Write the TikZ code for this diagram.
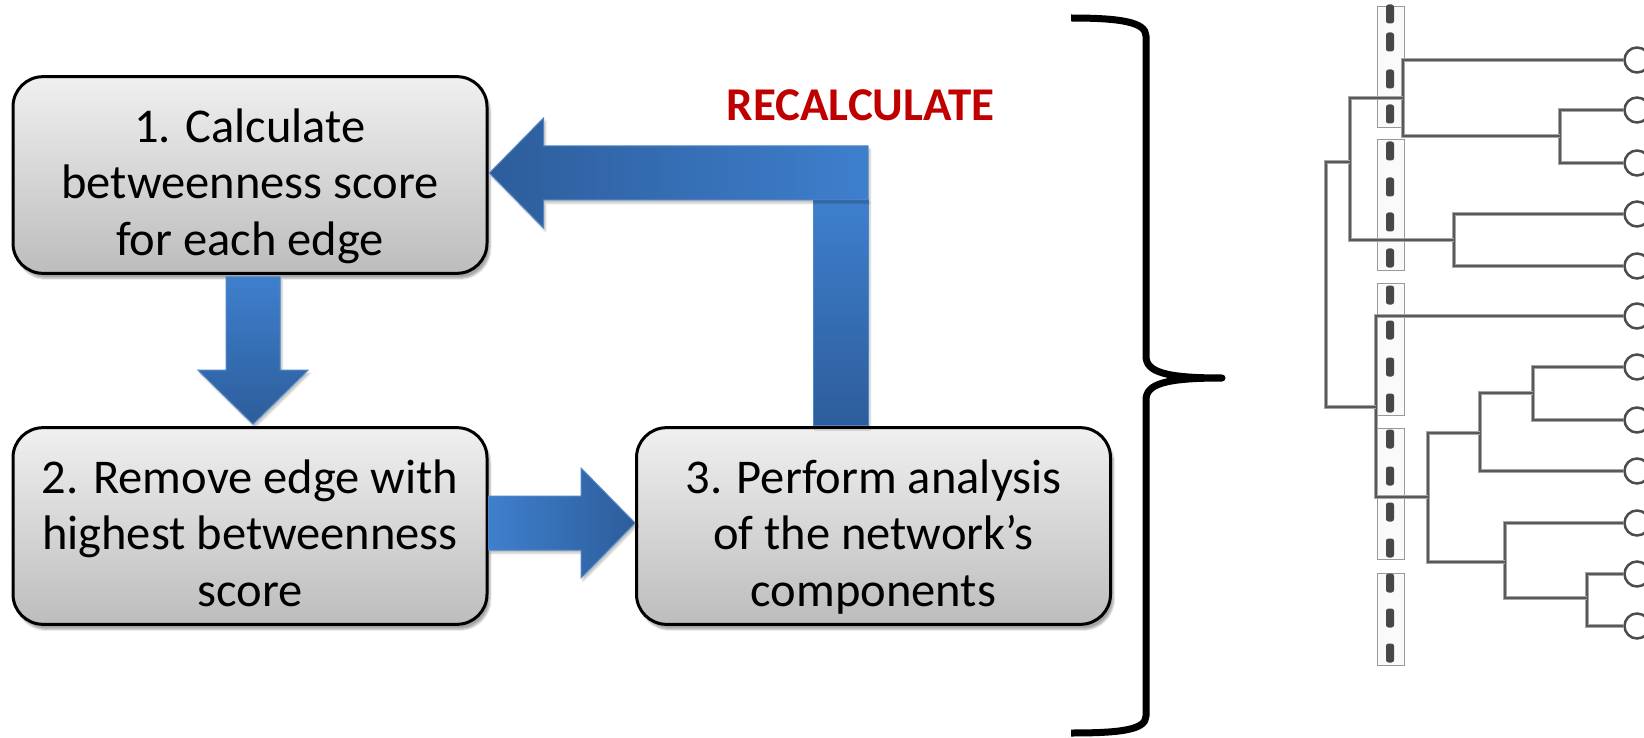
\documentclass[tikz,border=0pt]{standalone}
\usepackage{fontspec}
\setmainfont{Carlito}
\usetikzlibrary{calc}
\usetikzlibrary{shadows.blur}

\definecolor{arrowlight}{HTML}{3E7FCD}
\definecolor{arrowdark}{HTML}{2D5D9B}
\definecolor{arrowedge}{HTML}{4F86C6}
\definecolor{recalcred}{HTML}{C00000}

% struts that keep the three lines at the same height in every box
\newcommand{\firststrut}{\rule{0pt}{62pt}}
\newcommand{\laststrut}{\rule[-15pt]{0pt}{0pt}}

\tikzset{
  stepbox/.style={draw=black, line width=3pt, rounded corners=30pt,
    minimum width=474pt, minimum height=196pt, align=center,
    top color=black!6, bottom color=black!26,
    font=\fontsize{48.5}{56.5}\selectfont,
    blur shadow={shadow xshift=3pt, shadow yshift=-5pt, shadow opacity=35, shadow blur steps=6}},
  blockarrow/.style={draw=arrowedge, line width=1pt,
    blur shadow={shadow xshift=2pt, shadow yshift=-3pt, shadow opacity=25, shadow blur steps=4}},
  dendro/.style={draw=black!35, double=black!65, double distance=2.2pt, line width=1pt},
  leaf/.style={circle, draw=black!70, line width=2.5pt, fill=white, minimum size=25pt, inner sep=0pt},
  strip/.style={draw=black!40, line width=0.8pt, fill=black!2},
  notch/.style={fill=black!72, rounded corners=2.5pt},
}

\begin{document}
\begin{tikzpicture}[x=1pt,y=-1pt]
  \useasboundingbox (0,0) rectangle (1644,738);
  \clip (0,0) rectangle (1644,738);

  % the three steps
  \node[stepbox] (calc) at (250,175) {\firststrut 1. Calculate\\betweenness score\\for each edge\laststrut};
  \node[stepbox] (remove) at (250,526) {\firststrut 2. Remove edge with\\highest betweenness\\score\laststrut};
  \node[stepbox] (perform) at (873.5,526) {\firststrut 3. Perform analysis\\of the network’s\\components\laststrut};

  % 1 -> 2
  \coordinate (dT) at ($(calc.south)+(3,2)$);
  \coordinate (dB) at ($(remove.north)+(3,-2)$);
  \path[blockarrow, top color=arrowlight, bottom color=arrowdark]
    ($(dT)+(-27,0)$) -- ($(dT)+(27,0)$) -- ($(dB)+(27,-54)$) -- ($(dB)+(55,-54)$)
    -- (dB) -- ($(dB)+(-55,-54)$) -- ($(dB)+(-27,-54)$) -- cycle;

  % 2 -> 3
  \coordinate (rL) at ($(remove.east)+(0,-3)$);
  \coordinate (rR) at ($(perform.west)+(0,-3)$);
  \path[blockarrow, left color=arrowlight, right color=arrowdark]
    ($(rL)+(0,-27)$) -- ($(rR)+(-54,-27)$) -- ($(rR)+(-54,-55)$) -- (rR)
    -- ($(rR)+(-54,55)$) -- ($(rR)+(-54,27)$) -- ($(rL)+(0,27)$) -- cycle;

  % 3 -> 1
  \coordinate (uB) at ($(perform.north)+(-33,-1)$);
  \coordinate (uTip) at ($(calc.east)+(1,-2)$);
  \coordinate (uC) at (uB |- uTip);
  \path[blockarrow, top color=arrowlight, bottom color=arrowdark]
    ($(uB)+(-27.5,0)$) -- ($(uB)+(27.5,0)$) -- ($(uC)+(27.5,27)$) -- ($(uC)+(-27.5,27)$) -- cycle;
  \path[blockarrow, left color=arrowdark, right color=arrowlight]
    (uTip) -- ($(uTip)+(54,-55)$) -- ($(uTip)+(54,-27)$) -- ($(uC)+(27.5,-27)$)
    -- ($(uC)+(27.5,27)$) -- ($(uTip)+(54,27)$) -- ($(uTip)+(54,55)$) -- cycle;
  \node[anchor=base, text=recalcred, font=\fontsize{47}{56}\selectfont\bfseries] (recalc) at (860.5,121) {RECALCULATE};

  % brace
  \draw[line width=7pt, line join=round]
    (1071,18) .. controls (1120,18) and (1146,22) .. (1146,36) -- (1146,356)
    .. controls (1146,372) and (1165,378) .. (1222,378)
    .. controls (1165,378) and (1146,384) .. (1146,400) -- (1146,716)
    .. controls (1146,730) and (1120,733) .. (1071,733);

  % dendrogram
  \foreach \ya/\yb in {6/127, 139/270, 283/415, 428/559, 573/665}
    \draw[strip] (1377,\ya) rectangle (1404,\yb);
  \foreach \y in {14,42,79,114,151,187,222,258,295,330,367,403,439,476,512,548,583,618,653}
    \fill[notch] (1386,\y-9.5) rectangle (1394,\y+9.5);

  \foreach \i/\y in {1/60, 2/110, 3/163, 4/214, 5/266, 6/316, 7/367, 8/420, 9/471, 10/523, 11/574, 12/626}
    \node[leaf] (l\i) at (1637,\y) {};

  \coordinate (j23) at (1560,136);
  \coordinate (jA) at (1403,98);
  \coordinate (j45) at (1454,240);
  \coordinate (jAB) at (1350,162);
  \coordinate (j78) at (1533,393);
  \coordinate (j789) at (1480,433);
  \coordinate (j1112) at (1587,598);
  \coordinate (j10) at (1505,562);
  \coordinate (jC) at (1428,497);
  \coordinate (j6C) at (1376,407);
  \coordinate (jR) at (1326,285);

  \foreach \j/\a/\b in {j23/l2/l3, jA/l1/j23, j45/l4/l5, jAB/jA/j45, j78/l7/l8, j789/j78/l9,
      j1112/l11/l12, j10/l10/j1112, jC/j789/j10, j6C/l6/jC, jR/jAB/j6C}
    \draw[dendro] (\a) -| (\j) |- (\b);
\end{tikzpicture}
\end{document}
